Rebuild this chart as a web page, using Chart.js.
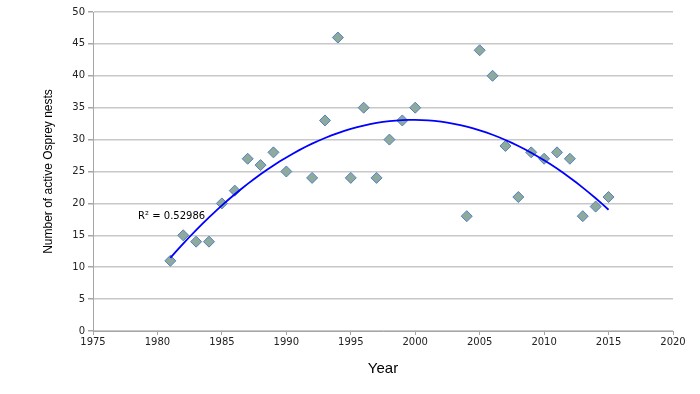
<!DOCTYPE html>
<html>
<head>
<meta charset="utf-8">
<script src="https://cdn.jsdelivr.net/npm/chart.js@4"></script>
<style>
  html, body { margin: 0; padding: 0; background: #fff; }
  #wrap { width: 700px; height: 394px; }
</style>
</head>
<body>
<div id="wrap"><canvas id="grafica"></canvas></div>
<script>
// data
const years = [1981, 1982, 1983, 1984, 1985, 1986, 1987, 1988, 1989, 1990,
  1992, 1993, 1994, 1995, 1996, 1997, 1998, 1999, 2000,
  2004, 2005, 2006, 2007, 2008, 2009, 2010, 2011, 2012, 2013, 2014, 2015];
const nests = [11, 15, 14, 14, 20, 22, 27, 26, 28, 25,
  24, 33, 46, 24, 35, 24, 30, 33, 35,
  18, 44, 40, 29, 21, 28, 27, 28, 27, 18, 19.5, 21];
const xTicks = [1975, 1980, 1985, 1990, 1995, 2000, 2005, 2010, 2015, 2020];
const yTicks = [0, 5, 10, 15, 20, 25, 30, 35, 40, 45, 50];
const rSquaredLabel = "R\u00b2 = 0.52986";

// polynomial (order 2) trendline, least squares on the points above
function quadFit(xs, ys) {
  const x0 = 1998;
  let s = [0, 0, 0, 0, 0], t = [0, 0, 0];
  xs.forEach((xv, i) => {
    const u = xv - x0;
    for (let k = 0; k < 5; k++) s[k] += Math.pow(u, k);
    for (let k = 0; k < 3; k++) t[k] += ys[i] * Math.pow(u, k);
  });
  const m = [[s[0], s[1], s[2], t[0]], [s[1], s[2], s[3], t[1]], [s[2], s[3], s[4], t[2]]];
  for (let i = 0; i < 3; i++) {
    for (let j = i + 1; j < 3; j++) {
      const f = m[j][i] / m[i][i];
      for (let k = i; k < 4; k++) m[j][k] -= f * m[i][k];
    }
  }
  const c = [0, 0, 0];
  for (let i = 2; i >= 0; i--) {
    let v = m[i][3];
    for (let k = i + 1; k < 3; k++) v -= m[i][k] * c[k];
    c[i] = v / m[i][i];
  }
  return xv => c[0] + c[1] * (xv - x0) + c[2] * (xv - x0) * (xv - x0);
}
const fit = quadFit(years, nests);
const trend = [];
for (let xv = years[0]; xv <= years[years.length - 1] + 0.001; xv += 0.5) {
  trend.push({ x: xv, y: fit(xv) });
}

const rLabel = {
  id: 'rLabel',
  afterDatasetsDraw(chart) {
    const { ctx, scales } = chart;
    ctx.save();
    ctx.font = '10px "DejaVu Sans"';
    ctx.fillStyle = '#000';
    ctx.textBaseline = 'middle';
    ctx.fillText(rSquaredLabel, scales.x.getPixelForValue(1978.5), scales.y.getPixelForValue(18));
    ctx.restore();
  }
};

new Chart(document.querySelector('#grafica'), {
  type: 'scatter',
  data: {
    datasets: [{
      label: 'Nests',
      data: years.map((y, i) => ({ x: y, y: nests[i] })),
      pointStyle: 'rectRot',
      pointRadius: 5.5,
      backgroundColor: '#8fa99d',
      borderColor: '#4f81bd',
      borderWidth: 1,
      order: 2
    }, {
      type: 'line',
      label: 'Trend',
      data: trend,
      borderColor: '#0000ff',
      borderWidth: 1.8,
      pointRadius: 0,
      fill: false,
      tension: 0,
      order: 1
    }]
  },
  plugins: [rLabel],
  options: {
    responsive: true,
    maintainAspectRatio: false,
    animation: false,
    layout: { padding: { top: 12, right: 27, left: 37, bottom: 12 } },
    plugins: { legend: { display: false }, tooltip: { enabled: false } },
    scales: {
      x: {
        type: 'linear',
        min: 1975, max: 2020,
        afterBuildTicks: ax => { ax.ticks = xTicks.map(v => ({ value: v })); },
        afterFit: ax => { ax.height = 51; },
        grid: { display: true, drawOnChartArea: false, tickLength: 4, tickColor: '#a6a6a6' },
        border: { color: '#a6a6a6', width: 1 },
        ticks: {
          color: '#222', font: { family: 'DejaVu Sans', size: 10 },
          maxRotation: 0, padding: 1,
          callback: v => String(v)
        },
        title: {
          display: true, text: 'Year', color: '#000',
          font: { family: 'Liberation Sans', size: 15 }, padding: { top: 8 }
        }
      },
      y: {
        min: 0, max: 50,
        afterBuildTicks: ax => { ax.ticks = yTicks.map(v => ({ value: v })); },
        afterFit: ax => { ax.width = 56; },
        grid: { color: '#c8c8c8', lineWidth: 1.5, tickLength: 5, tickColor: '#a6a6a6' },
        border: { color: '#a6a6a6', width: 1 },
        ticks: { color: '#222', font: { family: 'DejaVu Sans', size: 10 }, padding: 3 },
        title: {
          display: true, text: 'Number of active Osprey nests', color: '#000',
          font: { family: 'Liberation Sans', size: 12 }, padding: { bottom: 4 }
        }
      }
    }
  }
});
</script>
</body>
</html>
